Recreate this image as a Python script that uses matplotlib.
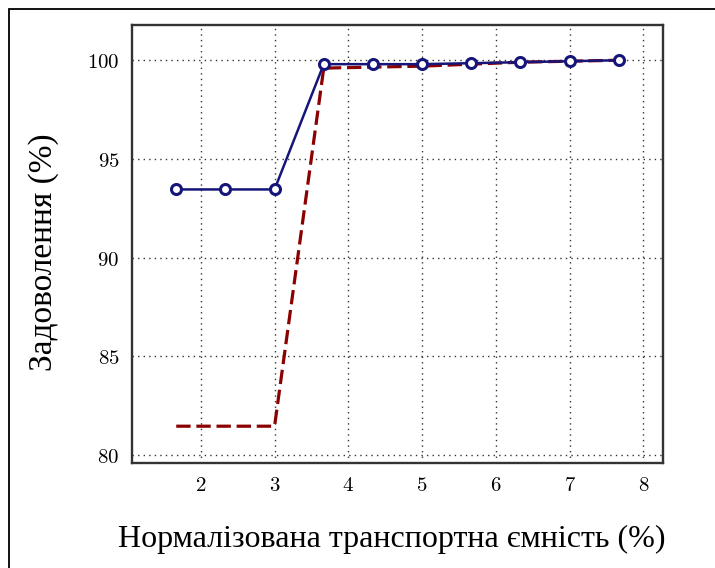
import matplotlib
matplotlib.use('Agg')
import matplotlib.pyplot as plt
from matplotlib.patches import Rectangle
from matplotlib.ticker import FuncFormatter

# Normalised capacity (%) on x, satisfaction (%) on y
capacity = [1.667, 2.333, 3.0, 3.667, 4.333, 5.0, 5.667, 6.333, 7.0, 7.667]
satisfaction_a = [93.45, 93.45, 93.45, 99.8, 99.8, 99.8, 99.85, 99.9, 99.95, 100.0]
satisfaction_b = [81.45, 81.45, 81.45, 99.6, 99.65, 99.7, 99.8, 99.9, 99.95, 100.0]

x_ticks = [2, 3, 4, 5, 6, 7, 8]
y_ticks = [80, 85, 90, 95, 100]

plt.rcParams['mathtext.fontset'] = 'cm'

fig = plt.figure(figsize=(7.15, 5.68), dpi=100)
ax = fig.add_axes([0.1846, 0.1854, 0.7427, 0.7711])

ax.plot(capacity, satisfaction_b, color='#8b0000', linestyle=(0, (4.5, 1.8)),
        linewidth=2.3, zorder=3)
ax.plot(capacity, satisfaction_a, color='#15157a', linewidth=1.8,
        marker='o', markersize=7.2, markerfacecolor='white',
        markeredgewidth=2.2, markeredgecolor='#15157a', zorder=4)

ax.set_xlim(1.067, 8.267)
ax.set_ylim(79.6, 101.8)
ax.set_xticks(x_ticks)
ax.set_yticks(y_ticks)
ax.xaxis.set_major_formatter(FuncFormatter(lambda v, p: r'$\mathbf{%d}$' % v))
ax.yaxis.set_major_formatter(FuncFormatter(lambda v, p: r'$\mathbf{%d}$' % v))
ax.tick_params(labelsize=15, length=0, pad=9)

ax.grid(True, linestyle=(0, (1, 3)), color='#333333', linewidth=1.0)
for s in ax.spines.values():
    s.set_linewidth(1.7)
    s.set_color('#333333')

ax.set_xlabel('Нормалізована транспортна ємність (%)', family='Liberation Serif',
              fontsize=23)
ax.set_ylabel('Задоволення (%)', family='Liberation Serif', fontsize=24)
ax.xaxis.set_label_coords(0.489, -0.142)
ax.yaxis.set_label_coords(-0.137, 0.481)

# outer frame, cut by the picture edges on the right and bottom
fig.patches.append(Rectangle((9 / 715, -0.1), 1.2, 1.1 - 9 / 568,
                             transform=fig.transFigure, fill=False,
                             edgecolor='black', linewidth=1.3))

fig.savefig('out.png', dpi=100)
